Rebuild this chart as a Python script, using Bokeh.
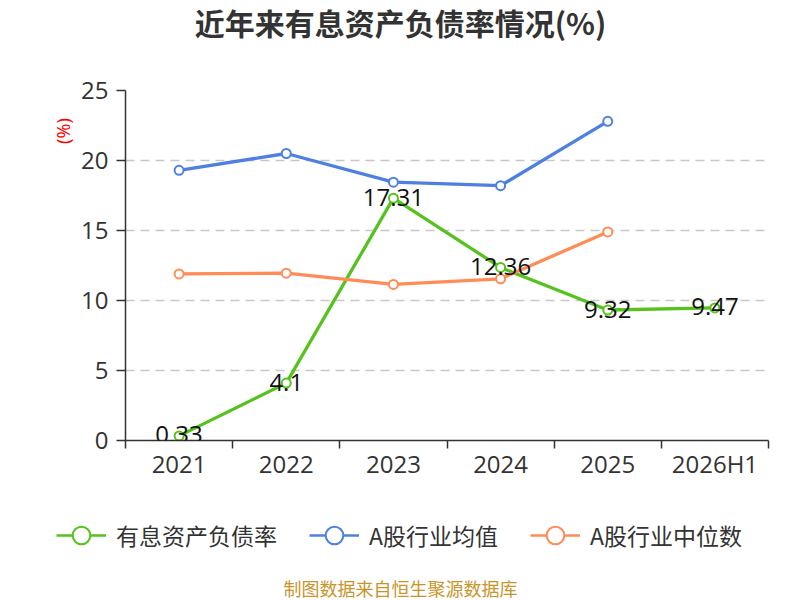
import math
from bokeh.plotting import figure
from bokeh.layouts import column, row
from bokeh.models import (ColumnDataSource, FixedTicker, Label, LabelSet, Legend, LegendItem, Range1d)
from bokeh.core.properties import value
from bokeh.embed import file_html
from bokeh.resources import INLINE

# ---- data ----
categories = ["2021", "2022", "2023", "2024", "2025", "2026H1"]
debt_ratio = [0.33, 4.1, 17.31, 12.36, 9.32, 9.47]
industry_mean = [19.3, 20.5, 18.45, 18.2, 22.8]
industry_median = [11.9, 11.95, 11.15, 11.55, 14.9]
y_ticks = [0, 5, 10, 15, 20, 25]

title_text = "近年来有息资产负债率情况(%)"
series_names = ["有息资产负债率", "A股行业均值", "A股行业中位数"]
source_text = "制图数据来自恒生聚源数据库"
unit_text = "(%)"

GREEN = "#55c21d"
BLUE = "#4e80e1"
ORANGE = "#ff8c57"
TXT = "#333333"
NUM_FONT = "Open Sans"
CJK_FONT = "Noto Sans CJK SC"
colors = [GREEN, BLUE, ORANGE]


def blank(w, h):
    # canvas-sized frame: data units are pixels, y measured upward from the bottom
    f = figure(width=w, height=h, x_range=Range1d(0, w), y_range=Range1d(0, h),
               x_axis_type=None, y_axis_type=None, output_backend="svg",
               toolbar_location=None, title=None, min_border=0)
    f.outline_line_color = None
    f.background_fill_color = "white"
    f.border_fill_color = "white"
    return f


xs = [i + 0.5 for i in range(len(categories))]

# ---- main chart ----
p = figure(width=722, height=440, x_range=(0, len(categories)), y_range=(0, 25),
           output_backend="svg", toolbar_location=None, title=None,
           min_border_left=46, min_border_right=32, min_border_top=30, min_border_bottom=60)
p.outline_line_color = None
p.background_fill_color = "white"
p.border_fill_color = "white"

xax = p.xaxis[0]
xax.ticker = FixedTicker(ticks=xs, minor_ticks=list(range(len(categories) + 1)))
xax.major_label_overrides = {x: c for x, c in zip(xs, categories)}
xax.major_tick_line_color = None
xax.major_tick_out = 0
xax.major_tick_in = 0
xax.minor_tick_out = 8
xax.minor_tick_in = 0
xax.minor_tick_line_color = TXT
xax.minor_tick_line_width = 1.5
xax.axis_line_color = TXT
xax.axis_line_width = 1.5
xax.major_label_text_font = NUM_FONT
xax.major_label_text_font_size = "24px"
xax.major_label_text_color = TXT
xax.major_label_standoff = -2

yax = p.yaxis[0]
yax.ticker = FixedTicker(ticks=y_ticks)
yax.minor_tick_line_color = None
yax.major_tick_out = 9
yax.major_tick_in = 0
yax.major_tick_line_color = TXT
yax.major_tick_line_width = 1.5
yax.axis_line_color = TXT
yax.axis_line_width = 1.5
yax.major_label_text_font = NUM_FONT
yax.major_label_text_font_size = "24px"
yax.major_label_text_color = TXT
yax.major_label_standoff = 8

p.xgrid.grid_line_color = None
p.ygrid.grid_line_color = "#c8c8c8"
p.ygrid.grid_line_width = 1.5
p.ygrid.grid_line_dash = "9 6"

src_g = ColumnDataSource(dict(x=xs, y=debt_ratio, t=[str(v) for v in debt_ratio]))
src_b = ColumnDataSource(dict(x=xs[:len(industry_mean)], y=industry_mean))
src_o = ColumnDataSource(dict(x=xs[:len(industry_median)], y=industry_median))

for src, col in zip([src_g, src_b, src_o], colors):
    p.line("x", "y", source=src, line_color=col, line_width=3.3)
    p.scatter("x", "y", source=src, size=9, fill_color="white", line_color=col, line_width=2)

labels = LabelSet(x="x", y="y", text="t", source=src_g, text_align="center",
                  text_baseline="middle", text_font=value(NUM_FONT), text_font_size="24px",
                  text_color="#111111", y_offset=1)
p.add_layout(labels)

# ---- title strip (page y 0..60) ----
top = blank(800, 60)
top.add_layout(Label(x=400, y=60 - 21, text=title_text, text_align="center",
                     text_baseline="middle", text_font=CJK_FONT, text_font_size="30px",
                     text_font_style="bold", text_color=TXT))

# ---- left strip with unit (page y 60..500) ----
left = blank(78, 440)
left.add_layout(Label(x=62, y=440 - 51, text=unit_text, angle=math.pi / 2, text_align="center",
                      text_baseline="middle", text_font="Noto Sans", text_font_size="18px",
                      text_color="red"))

# ---- bottom strip with legend and source (page y 500..600) ----
bottom = blank(800, 100)
nan = float("nan")
items = []
for name, col in zip(series_names, colors):
    lr = bottom.line(x=[nan], y=[nan], line_color=col, line_width=2.5)
    sr = bottom.scatter(x=[nan], y=[nan], fill_color="white", line_color=col, line_width=2)
    items.append(LegendItem(label=name, renderers=[lr, sr]))
legend = Legend(items=items, orientation="horizontal", location=(56, 43),
                glyph_width=50, glyph_height=44, label_standoff=10, spacing=32,
                padding=0, margin=0, border_line_color=None, background_fill_alpha=0,
                label_text_font=CJK_FONT, label_text_font_size="23px", label_text_color=TXT)
bottom.add_layout(legend)
bottom.add_layout(Label(x=400, y=100 - 87, text=source_text, text_align="center",
                        text_baseline="middle", text_font=CJK_FONT, text_font_size="18px",
                        text_color="#c8952b"))

layout = column(top, row(left, p, spacing=0), bottom, spacing=0)
open("out.html", "w").write(file_html(layout, INLINE))
